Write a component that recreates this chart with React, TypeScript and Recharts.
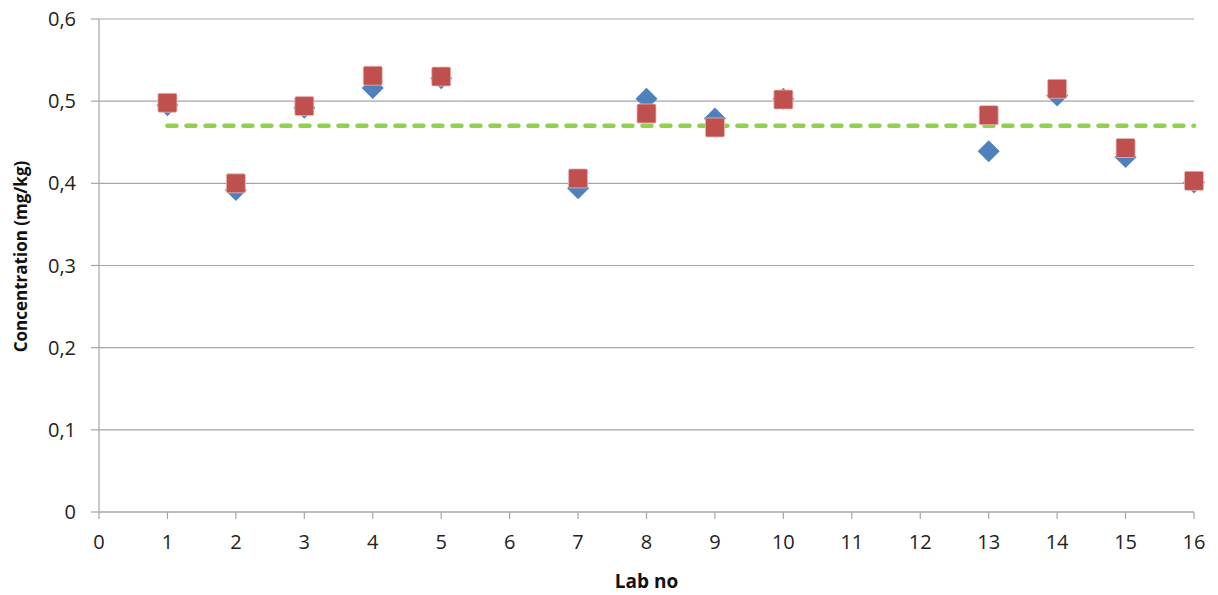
import { CartesianGrid, Label, Scatter, ScatterChart, XAxis, YAxis } from 'recharts'

const labs = [1, 2, 3, 4, 5, 7, 8, 9, 10, 13, 14, 15, 16]
const resultA = [0.495, 0.392, 0.492, 0.516, 0.528, 0.394, 0.503, 0.479, 0.503, 0.439, 0.507, 0.432, 0.401]
const resultB = [0.498, 0.4, 0.494, 0.531, 0.53, 0.406, 0.485, 0.468, 0.502, 0.483, 0.515, 0.443, 0.403]
const assignedRange = [1, 16]
const assignedValue = 0.47

const xTicks = [0, 1, 2, 3, 4, 5, 6, 7, 8, 9, 10, 11, 12, 13, 14, 15, 16]
const yTicks = [0, 0.1, 0.2, 0.3, 0.4, 0.5, 0.6]

const dataA = labs.map((lab, i) => ({ lab, value: resultA[i] }))
const dataB = labs.map((lab, i) => ({ lab, value: resultB[i] }))
const dataRef = assignedRange.map((lab) => ({ lab, value: assignedValue }))

const font = '"Open Sans", "Liberation Sans", sans-serif'
const axisGrey = '#a6a6a6'

function Diamond({ cx, cy }: { cx?: number; cy?: number }) {
  if (cx == null || cy == null) return null
  const r = 11
  return (
    <path
      d={`M${cx},${cy - r}L${cx + r},${cy}L${cx},${cy + r}L${cx - r},${cy}Z`}
      fill="#4f81bd"
    />
  )
}

function Square({ cx, cy }: { cx?: number; cy?: number }) {
  if (cx == null || cy == null) return null
  const s = 19
  return (
    <rect
      x={cx - s / 2}
      y={cy - s / 2}
      width={s}
      height={s}
      rx={1.5}
      fill="#c0504d"
      stroke="#e6b9b8"
      strokeWidth={0.8}
    />
  )
}

function YTitle({ viewBox }: { viewBox?: any }) {
  if (!viewBox) return null
  const x = 27
  const y = viewBox.y + viewBox.height / 2 - 9
  return (
    <text
      x={x}
      y={y}
      transform={`rotate(-90 ${x} ${y})`}
      textAnchor="middle"
      style={{ fontSize: 17, fontWeight: 700, fill: '#111', fontFamily: font }}
    >
      Concentration (mg/kg)
    </text>
  )
}

export default function App() {
  return (
    <div style={{ position: 'fixed', left: 0, top: 0, width: 1218, height: 595, background: '#fff' }}>
      <ScatterChart
        width={1218}
        height={595}
        margin={{ top: 19, right: 24, bottom: 0, left: 0 }}
        style={{ fontFamily: font }}
      >
        <CartesianGrid horizontal vertical={false} stroke={axisGrey} strokeWidth={1.2} />
        <XAxis
          type="number"
          dataKey="lab"
          domain={[0, 16]}
          ticks={xTicks}
          interval={0}
          height={83}
          tickSize={7}
          tickMargin={16}
          stroke={axisGrey}
          strokeWidth={1.2}
          tick={{ fill: '#222', fontSize: 20, fontFamily: font }}
        >
          <Label
            value="Lab no"
            position="insideBottom"
            offset={7}
            style={{ fontSize: 19, fontWeight: 700, fill: '#111', fontFamily: font }}
          />
        </XAxis>
        <YAxis
          type="number"
          dataKey="value"
          domain={[0, 0.6]}
          ticks={yTicks}
          interval={0}
          width={99}
          tickSize={8}
          tickMargin={15}
          stroke={axisGrey}
          strokeWidth={1.2}
          tickFormatter={(v: number) => (v === 0 ? '0' : v.toFixed(1).replace('.', ','))}
          tick={{ fill: '#222', fontSize: 20, fontFamily: font }}
        >
          <Label content={(p: any) => <YTitle viewBox={p.viewBox} />} />
        </YAxis>
        <Scatter
          data={dataRef}
          isAnimationActive={false}
          line={{ stroke: '#92d050', strokeWidth: 4.5, strokeDasharray: '9 10', strokeLinecap: 'round' }}
          shape={() => null}
        />
        <Scatter data={dataA} isAnimationActive={false} shape={(p: any) => <Diamond cx={p.cx} cy={p.cy} />} />
        <Scatter data={dataB} isAnimationActive={false} shape={(p: any) => <Square cx={p.cx} cy={p.cy} />} />
      </ScatterChart>
    </div>
  )
}
